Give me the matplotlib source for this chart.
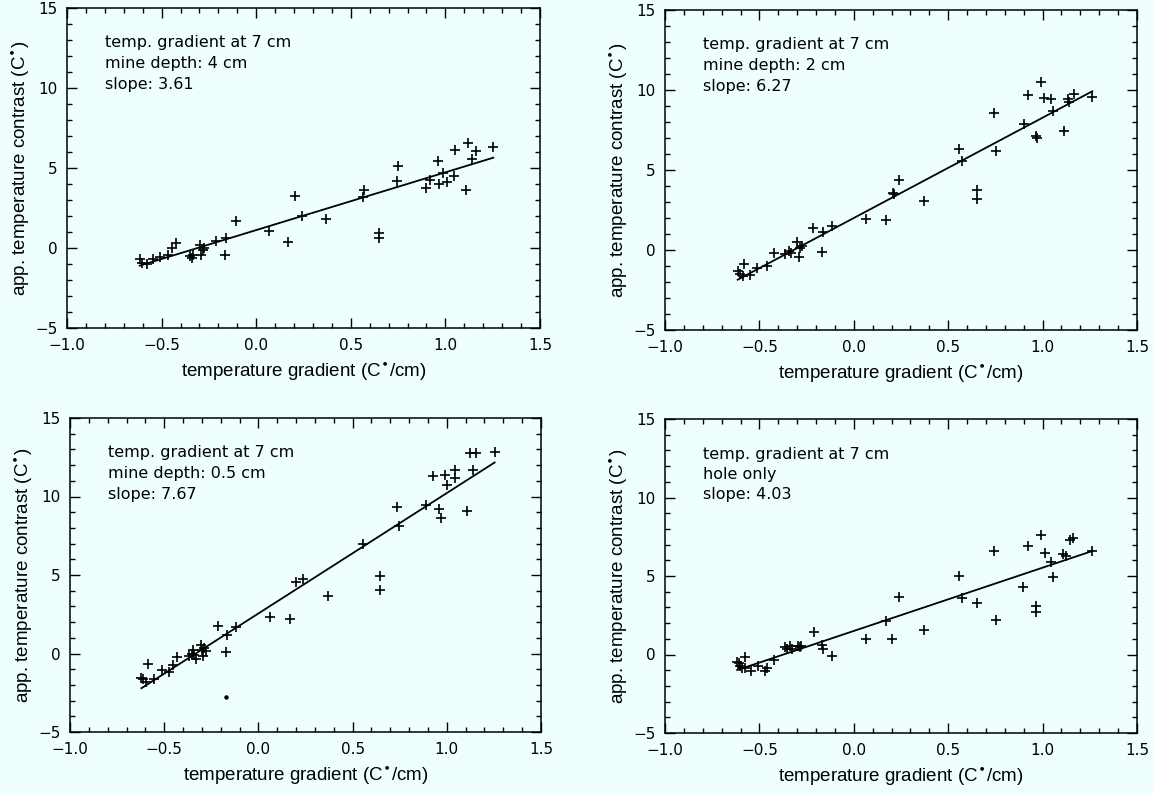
import matplotlib
matplotlib.use("Agg")
import matplotlib.pyplot as plt
from matplotlib.ticker import MultipleLocator
import numpy as np

# ---------------- data ----------------
x_depth4 = [-0.616, -0.602, -0.577, -0.545, -0.51, -0.466, -0.443, -0.425, -0.351, -0.337,
            -0.334, -0.298, -0.290, -0.281, -0.277, -0.214, -0.166, -0.157, -0.108, 0.068,
            0.170, 0.206, 0.241, 0.371, 0.562, 0.572, 0.650, 0.650, 0.742, 0.749,
            0.897, 0.921, 0.960, 0.967, 0.985, 1.006, 1.045, 1.052, 1.108, 1.122,
            1.140, 1.161, 1.253]
y_depth4 = [-0.69, -0.94, -0.98, -0.69, -0.56, -0.42, 0.0, 0.31, -0.48, -0.62,
            -0.42, 0.21, -0.42, -0.10, 0.0, 0.42, -0.42, 0.63, 1.67, 1.04,
            0.35, 3.23, 1.98, 1.83, 3.19, 3.65, 0.94, 0.63, 4.17, 5.10,
            3.75, 4.27, 5.46, 4.0, 4.69, 4.10, 4.52, 6.10, 3.65, 6.56,
            5.56, 6.04, 6.31]

x_depth2 = [-0.615, -0.604, -0.587, -0.580, -0.551, -0.512, -0.459, -0.424, -0.362, -0.345,
            -0.332, -0.300, -0.292, -0.283, -0.276, -0.216, -0.168, -0.163, -0.115, 0.064,
            0.170, 0.205, 0.212, 0.237, 0.371, 0.558, 0.574, 0.654, 0.654, 0.742,
            0.751, 0.901, 0.924, 0.965, 0.972, 0.989, 1.007, 1.046, 1.057, 1.113,
            1.134, 1.140, 1.166, 1.263]
y_depth2 = [-1.32, -1.52, -1.63, -0.90, -1.59, -1.11, -1.00, -0.17, -0.27, -0.06,
            -0.17, 0.50, -0.42, 0.15, 0.25, 1.40, -0.10, 1.13, 1.50, 1.92,
            1.88, 3.59, 3.49, 4.38, 3.05, 6.30, 5.57, 3.76, 3.17, 8.56,
            6.18, 7.87, 9.69, 7.10, 6.97, 10.52, 9.52, 9.44, 8.68, 7.45,
            9.44, 9.23, 9.77, 9.58]

x_depth05 = [-0.621, -0.613, -0.596, -0.585, -0.555, -0.514, -0.472, -0.454, -0.431, -0.369,
             -0.355, -0.348, -0.342, -0.333, -0.307, -0.301, -0.294, -0.287, -0.280, -0.213,
             -0.174, -0.165, -0.117, 0.060, 0.167, 0.202, 0.238, 0.367, 0.557, 0.645,
             0.645, 0.734, 0.745, 0.890, 0.926, 0.957, 0.970, 0.988, 1.000, 1.046,
             1.046, 1.106, 1.124, 1.138, 1.156, 1.254]
y_depth05 = [-1.55, -1.64, -1.81, -0.70, -1.64, -1.06, -1.17, -0.74, -0.21, -0.15,
             0.0, 0.21, -0.11, -0.32, 0.53, 0.21, -0.15, 0.32, 0.15, 1.77,
             0.11, 1.17, 1.70, 2.34, 2.19, 4.57, 4.74, 3.68, 6.96, 4.96,
             4.02, 9.30, 8.09, 9.43, 11.28, 9.19, 8.66, 11.34, 10.74, 11.70,
             11.17, 9.09, 12.77, 11.70, 12.77, 12.81]
x_depth05_dot = [-0.174]
y_depth05_dot = [-2.77]

x_hole = [-0.618, -0.610, -0.601, -0.592, -0.574, -0.574, -0.544, -0.509, -0.468, -0.459,
          -0.424, -0.367, -0.353, -0.339, -0.327, -0.297, -0.286, -0.279, -0.212, -0.168,
          -0.163, -0.115, 0.064, 0.168, 0.203, 0.239, 0.371, 0.558, 0.574, 0.654,
          0.742, 0.751, 0.898, 0.924, 0.965, 0.965, 0.989, 1.011, 1.046, 1.057,
          1.110, 1.122, 1.145, 1.163, 1.263]
y_hole = [-0.47, -0.55, -0.72, -0.83, -0.13, -0.83, -1.04, -0.76, -1.04, -0.83,
          -0.34, 0.45, 0.38, 0.51, 0.38, 0.51, 0.45, 0.55, 1.44, 0.59,
          0.38, -0.08, 0.98, 2.14, 0.98, 3.69, 1.57, 4.97, 3.57, 3.31,
          6.62, 2.21, 4.27, 6.88, 3.10, 2.72, 7.60, 6.45, 5.86, 4.95,
          6.39, 6.28, 7.30, 7.45, 6.58]

slopes = [3.61, 6.27, 7.67, 4.03]
intercepts = [1.12, 2.0, 2.55, 1.5]
labels_line2 = ["mine depth: 4 cm", "mine depth: 2 cm", "mine depth: 0.5 cm", "hole only"]
line1 = "temp. gradient at 7 cm"
xlabel = "temperature gradient (C$^{\\bullet}$/cm)"
ylabel = "app. temperature contrast (C$^{\\bullet}$)"
xticks = [-1.0, -0.5, 0.0, 0.5, 1.0, 1.5]
yticks = [-5, 0, 5, 10, 15]

# ---------------- figure ----------------
BG = "#effffe"
W, H = 1154, 795
fig = plt.figure(figsize=(W / 100, H / 100), dpi=100, facecolor=BG)

# axes boxes in pixels: left, top, right, bottom
boxes = [(67, 8, 540, 328), (665, 10, 1137, 330), (70, 418, 541, 732), (665, 419, 1137, 733)]
datasets = [(x_depth4, y_depth4), (x_depth2, y_depth2), (x_depth05, y_depth05), (x_hole, y_hole)]

for i, ((l, t, r, b), (xs, ys)) in enumerate(zip(boxes, datasets)):
    ax = fig.add_axes([l / W, 1 - b / H, (r - l) / W, (b - t) / H])
    ax.set_facecolor(BG)
    ax.plot(xs, ys, linestyle="none", marker="+", markersize=7, markeredgewidth=1.2, color="black")
    if i == 2:
        ax.plot(x_depth05_dot, y_depth05_dot, linestyle="none", marker="o", markersize=2.2, color="black")
    xa = np.array([min(xs), max(xs)])
    ax.plot(xa, slopes[i] * xa + intercepts[i], color="black", linewidth=1.3)

    ax.set_xlim(-1.0, 1.5)
    ax.set_ylim(-5, 15)
    ax.set_xticks(xticks)
    ax.set_yticks(yticks)
    ax.set_xticklabels([f"{v:.1f}".replace("-", "\u2212") for v in xticks])
    ax.set_yticklabels([str(v).replace("-", "\u2212") for v in yticks])
    ax.xaxis.set_minor_locator(MultipleLocator(0.1))
    ax.yaxis.set_minor_locator(MultipleLocator(1))
    ax.tick_params(which="both", direction="in", top=True, right=True, width=1.0, labelsize=11, pad=7)
    ax.tick_params(which="major", length=7)
    ax.tick_params(which="minor", length=3.5)
    for s in ax.spines.values():
        s.set_linewidth(1.1)
    for lab in ax.get_xticklabels() + ax.get_yticklabels():
        lab.set_family("DejaVu Sans")

    ax.set_xlabel(xlabel, fontsize=13.5, family="Liberation Sans", labelpad=5)
    ax.set_ylabel(ylabel, fontsize=13.5, family="Liberation Sans", labelpad=3)

    pw, ph = r - l, b - t
    tx = 38 / pw
    for k, txt in enumerate([line1, labels_line2[i], f"slope: {slopes[i]:.2f}"]):
        ty = 1 - (35 + 20.5 * k) / ph
        ax.text(tx, ty, txt, transform=ax.transAxes, fontsize=11.5, family="DejaVu Sans",
                va="center", ha="left")

fig.savefig("out.png", dpi=100, facecolor=BG)
